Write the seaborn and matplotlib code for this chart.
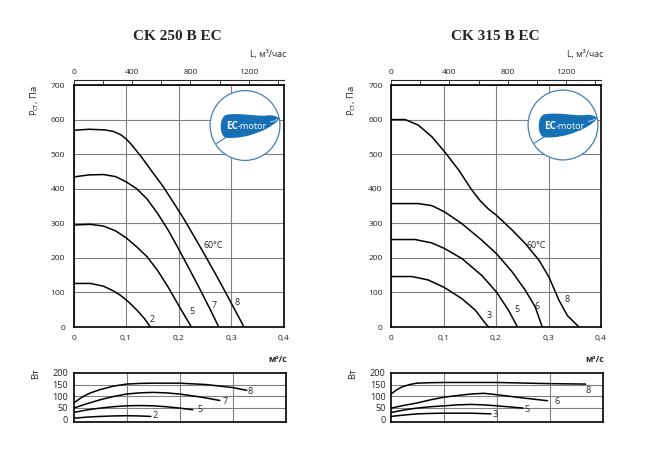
import seaborn as sns
import matplotlib.pyplot as plt
from matplotlib.patches import Circle, PathPatch
from matplotlib.path import Path

# values (flow m3/s, pressure Pa, power W)
titles = ['CK 250 B EC', 'CK 315 B EC']

# CK 250 B EC - pressure curves
p250_2_x = [0, 0.032, 0.057, 0.075, 0.089, 0.105, 0.121, 0.135, 0.146]
p250_2_y = [126, 126, 118, 105, 92, 72, 48, 24, 0]
p250_5_x = [0, 0.032, 0.057, 0.08, 0.1, 0.12, 0.14, 0.16, 0.18, 0.2, 0.224]
p250_5_y = [295, 297, 292, 278, 258, 232, 203, 163, 115, 62, 0]
p250_7_x = [0, 0.03, 0.057, 0.08, 0.1, 0.12, 0.14, 0.16, 0.18, 0.2, 0.22, 0.24, 0.26, 0.276]
p250_7_y = [434, 440, 441, 435, 420, 400, 370, 328, 280, 225, 168, 110, 50, 0]
p250_8_x = [0, 0.03, 0.06, 0.075, 0.09, 0.1, 0.11, 0.13, 0.15, 0.17, 0.19, 0.21, 0.23, 0.25, 0.27, 0.29, 0.31, 0.324]
p250_8_y = [569, 572, 570, 566, 556, 544, 528, 490, 448, 407, 360, 312, 260, 207, 153, 97, 40, 0]

# CK 250 B EC - power curves
w250_2_x = [0, 0.025, 0.05, 0.075, 0.1, 0.125, 0.146]
w250_2_y = [4, 9, 12, 14, 15, 14, 12]
w250_5_x = [0, 0.025, 0.05, 0.075, 0.1, 0.125, 0.15, 0.175, 0.2, 0.225]
w250_5_y = [29, 40, 48, 54, 58, 59, 58, 54, 48, 41]
w250_7_x = [0, 0.024, 0.05, 0.075, 0.1, 0.125, 0.15, 0.175, 0.2, 0.24, 0.276]
w250_7_y = [48, 66, 84, 98, 109, 114, 116, 114, 109, 96, 81]
w250_8_x = [0, 0.018, 0.031, 0.05, 0.075, 0.1, 0.125, 0.15, 0.2, 0.25, 0.3, 0.327]
w250_8_y = [70, 98, 113, 128, 143, 152, 155, 156, 156, 150, 137, 125]

# CK 315 B EC - pressure curves
p315_3_x = [0, 0.04, 0.071, 0.102, 0.135, 0.161, 0.18, 0.186]
p315_3_y = [146, 146, 136, 114, 82, 48, 10, 0]
p315_5_x = [0, 0.046, 0.078, 0.102, 0.135, 0.173, 0.201, 0.224, 0.241]
p315_5_y = [253, 253, 243, 227, 198, 149, 101, 48, 0]
p315_6_x = [0, 0.052, 0.078, 0.102, 0.135, 0.173, 0.201, 0.231, 0.256, 0.275, 0.288]
p315_6_y = [357, 357, 351, 333, 299, 251, 212, 159, 106, 57, 0]
p315_8_x = [0, 0.027, 0.052, 0.078, 0.102, 0.129, 0.154, 0.17, 0.185, 0.201, 0.231, 0.256, 0.282, 0.301, 0.32, 0.336, 0.358]
p315_8_y = [600, 600, 584, 550, 507, 454, 396, 365, 342, 323, 280, 241, 193, 144, 77, 33, 0]

# CK 315 B EC - power curves
w315_3_x = [0, 0.025, 0.049, 0.075, 0.102, 0.151, 0.189]
w315_3_y = [12, 18, 23, 25, 26, 26, 23]
w315_5_x = [0, 0.025, 0.049, 0.075, 0.102, 0.125, 0.151, 0.175, 0.2, 0.25]
w315_5_y = [29, 40, 48, 54, 58, 62, 64, 62, 58, 48]
w315_6_x = [0, 0.025, 0.049, 0.075, 0.102, 0.151, 0.176, 0.2, 0.253, 0.296]
w315_6_y = [48, 60, 70, 84, 96, 109, 112, 106, 91, 80]
w315_8_x = [0, 0.01, 0.02, 0.035, 0.049, 0.075, 0.102, 0.2, 0.298, 0.368]
w315_8_y = [109, 126, 139, 150, 156, 158, 159, 159, 154, 152]

p_ticks = [0, 100, 200, 300, 400, 500, 600, 700]
w_ticks = [0, 50, 100, 150, 200]
q_ticks = [0, 0.1, 0.2, 0.3, 0.4]
q_labels = ['0', '0,1', '0,2', '0,3', '0,4']
l_ticks = [0, 400, 800, 1200]

W, H = 649, 451
FONT = ['Open Sans', 'DejaVu Sans']
LEAF = '#1670b6'


def fr(x0, y0, x1, y1):
    # pixel box -> figure fraction
    return [x0 / W, 1 - y1 / H, (x1 - x0) / W, (y1 - y0) / H]


def draw_logo(fig, cx, cy, r=36):
    lax = fig.add_axes(fr(cx - r, cy - r, cx + r, cy + r))
    lax.set_xlim(-1, 1)
    lax.set_ylim(-1, 1)
    lax.axis('off')
    lax.add_patch(Circle((0, 0), 0.97, facecolor='white', edgecolor='#4580b2', lw=0.9))
    verts = [(-0.52, -0.34),
             (-0.72, -0.32), (-0.74, 0.26), (-0.5, 0.3),
             (-0.1, 0.36), (0.35, 0.24), (0.62, 0.28),
             (0.76, 0.3), (0.86, 0.26), (0.96, 0.2),
             (0.82, 0.0), (0.5, -0.17), (0.1, -0.28),
             (-0.15, -0.34), (-0.35, -0.36), (-0.52, -0.34),
             (0, 0)]
    codes = [Path.MOVETO] + [Path.CURVE4] * 15 + [Path.CLOSEPOLY]
    lax.add_patch(PathPatch(Path(verts, codes), facecolor=LEAF, edgecolor='none'))
    lax.plot([-0.5, -0.64, -0.79], [-0.32, -0.4, -0.5], color=LEAF, lw=0.7)
    lax.plot([0.7, 0.8, 0.9], [0.1, 0.12, 0.18], color='white', lw=0.5)
    lax.text(-0.2, -0.03, 'EC', color='white', ha='right', va='center',
             fontsize=7, fontweight='bold', family=FONT)
    lax.text(-0.2, -0.03, '-motor', color='white', ha='left', va='center',
             fontsize=6.6, family=FONT)


def draw_chart(fig, x0, x1, title, p_curves, w_curves, p_labels, w_labels, t_pos):
    ax = fig.add_axes(fr(x0, 85, x1, 327))
    for xs, ys in p_curves:
        sns.lineplot(x=xs, y=ys, ax=ax, color='black', lw=1.1, sort=False)
    ax.set_xlim(0, 0.4)
    ax.set_ylim(0, 700)
    ax.set_xticks(q_ticks, q_labels)
    ax.set_yticks(p_ticks)
    ax.grid(True, color='#808080', lw=0.8)
    ax.set_axisbelow(True)
    ax.tick_params(length=0, labelsize=6.1, pad=6)
    for s in ax.spines.values():
        s.set_linewidth(1.2)
        s.set_color('black')
    for txt, (lx, ly) in p_labels:
        ax.text(lx, ly, txt, ha='center', va='center', fontsize=6.4, family=FONT)

    # second flow scale on top, m3/h
    sec = ax.secondary_xaxis(1.022, functions=(lambda q: q * 3600, lambda l: l / 3600))
    sec.set_xticks(l_ticks)
    sec.set_xticks([200, 600, 1000, 1400], minor=True)
    sec.tick_params(which='both', direction='in', length=3, width=0.6, labelsize=6.1, pad=3)
    sec.spines['top'].set_linewidth(0.8)

    bx = fig.add_axes(fr(x0, 373, x1 + 1.5, 421.5))
    for xs, ys in w_curves:
        sns.lineplot(x=xs, y=ys, ax=bx, color='black', lw=1.1, sort=False)
    bx.set_xlim(0, 0.4)
    bx.set_ylim(-10, 200)
    bx.set_xticks([])
    bx.set_yticks(w_ticks)
    for g in [0.1, 0.2, 0.3]:
        bx.axvline(g, color='#808080', lw=0.8, zorder=0)
    for g in [50, 100, 150]:
        bx.axhline(g, color='#808080', lw=0.8, zorder=0)
    bx.tick_params(length=0, labelsize=6.6, pad=4)
    for s in bx.spines.values():
        s.set_linewidth(1.2)
        s.set_color('black')
    for txt, (lx, ly) in w_labels:
        bx.text(lx, ly, txt, ha='center', va='center', fontsize=6.6, family=FONT)

    fig.text(t_pos / W, 1 - 36 / H, title, ha='center', va='center', fontsize=11,
             fontweight='bold', family='Liberation Serif')
    fig.text((x1 + 2) / W, 1 - 54 / H, 'L, м³/час', ha='right', va='center', fontsize=6.3, family=FONT)
    fig.text((x1 + 3) / W, 1 - 359 / H, 'м³/с', ha='right', va='center', fontsize=6.3,
             fontweight='bold', family=FONT)
    fig.text((x0 - 39) / W, 1 - 85 / H, 'P$_{\\mathregular{ст}}$, Па', rotation=90, ha='center',
             va='top', fontsize=6.8, family=FONT)
    fig.text((x0 - 38) / W, 1 - 374 / H, 'Вт', rotation=90, ha='center', va='center',
             fontsize=6.8, family=FONT)


sns.set_style('white')
plt.rcParams['font.family'] = FONT
plt.rcParams['mathtext.fontset'] = 'custom'
plt.rcParams['mathtext.rm'] = 'Open Sans'

fig = plt.figure(figsize=(W / 100, H / 100), dpi=100)

draw_chart(fig, 73.5, 284, titles[0],
           [(p250_2_x, p250_2_y), (p250_5_x, p250_5_y), (p250_7_x, p250_7_y), (p250_8_x, p250_8_y)],
           [(w250_2_x, w250_2_y), (w250_5_x, w250_5_y), (w250_7_x, w250_7_y), (w250_8_x, w250_8_y)],
           [('2', (0.149, 22)), ('5', (0.225, 44)), ('7', (0.267, 62)), ('8', (0.311, 72)),
            ('60°C', (0.265, 237))],
           [('2', (0.154, 16)), ('5', (0.238, 41)), ('7', (0.287, 77)), ('8', (0.333, 120))],
           177.5)
draw_chart(fig, 391, 601, titles[1],
           [(p315_3_x, p315_3_y), (p315_5_x, p315_5_y), (p315_6_x, p315_6_y), (p315_8_x, p315_8_y)],
           [(w315_3_x, w315_3_y), (w315_5_x, w315_5_y), (w315_6_x, w315_6_y), (w315_8_x, w315_8_y)],
           [('3', (0.187, 33)), ('5', (0.239, 50)), ('6', (0.278, 60)), ('8', (0.336, 80)),
            ('60°C', (0.277, 237))],
           [('3', (0.197, 19)), ('5', (0.258, 43)), ('6', (0.314, 77)), ('8', (0.373, 123))],
           495)

draw_logo(fig, 245, 125.5)
draw_logo(fig, 563, 125)

fig.savefig('out.png', dpi=100)
